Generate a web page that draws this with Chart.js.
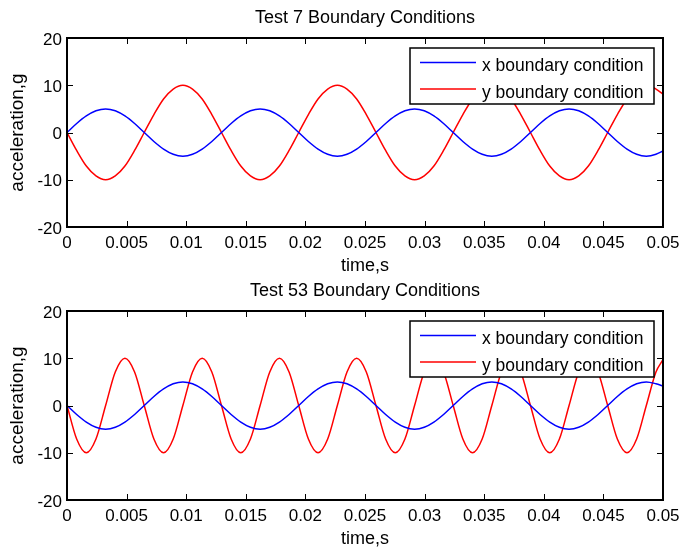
<!DOCTYPE html>
<html>
<head>
<meta charset="utf-8">
<script src="https://cdn.jsdelivr.net/npm/chart.js@4.4.1/dist/chart.umd.min.js"></script>
<style>
  html, body { margin: 0; padding: 0; background: #fff; overflow: hidden; }
  body { width: 686px; height: 548px; position: relative; }
  canvas { position: absolute; left: 0; }
  #test7 { top: 0; }
  #test53 { top: 273px; }
</style>
</head>
<body>
<canvas id="test7" width="686" height="277"></canvas>
<canvas id="test53" width="686" height="277"></canvas>
<script>
// time samples, s (at peaks, zero crossings and in between)
var timeS = [
    0, 0.00081, 0.00162, 0.00243, 0.00324, 0.00405, 0.00486, 0.00567, 0.00648, 0.00729, 0.0081, 0.00891, 0.00972, 0.01053, 0.01134, 0.01215,
    0.01296, 0.01377, 0.01458, 0.01539, 0.0162, 0.01701, 0.01782, 0.01863, 0.01944, 0.02025, 0.02106, 0.02187, 0.02268, 0.02349, 0.0243, 0.02511,
    0.02592, 0.02673, 0.02754, 0.02835, 0.02916, 0.02997, 0.03078, 0.03159, 0.0324, 0.03321, 0.03402, 0.03483, 0.03564, 0.03645, 0.03726, 0.03807,
    0.03888, 0.03969, 0.0405, 0.04131, 0.04212, 0.04293, 0.04374, 0.04455, 0.04536, 0.04617, 0.04698, 0.04779, 0.0486, 0.04941, 0.05
];

// Test 7, acceleration in g
var test7X = [
    0, 1.9, 3.5, 4.6, 5, 4.6, 3.5, 1.9, 0, -1.9, -3.5, -4.6, -5, -4.6, -3.5, -1.9,
    0, 1.9, 3.5, 4.6, 5, 4.6, 3.5, 1.9, 0, -1.9, -3.5, -4.6, -5, -4.6, -3.5, -1.9,
    0, 1.9, 3.5, 4.6, 5, 4.6, 3.5, 1.9, 0, -1.9, -3.5, -4.6, -5, -4.6, -3.5, -1.9,
    0, 1.9, 3.5, 4.6, 5, 4.6, 3.5, 1.9, 0, -1.9, -3.5, -4.6, -5, -4.6, -3.9
];
var test7Y = [
    0, -3.8, -7.1, -9.2, -10, -9.2, -7.1, -3.8, 0, 3.8, 7.1, 9.2, 10, 9.2, 7.1, 3.8,
    0, -3.8, -7.1, -9.2, -10, -9.2, -7.1, -3.8, 0, 3.8, 7.1, 9.2, 10, 9.2, 7.1, 3.8,
    0, -3.8, -7.1, -9.2, -10, -9.2, -7.1, -3.8, 0, 3.8, 7.1, 9.2, 10, 9.2, 7.1, 3.8,
    0, -3.8, -7.1, -9.2, -10, -9.2, -7.1, -3.8, 0, 3.8, 7.1, 9.2, 10, 9.2, 8.1
];

// Test 53, acceleration in g
var test53X = [
    0, -1.9, -3.5, -4.6, -5, -4.6, -3.5, -1.9, 0, 1.9, 3.5, 4.6, 5, 4.6, 3.5, 1.9,
    0, -1.9, -3.5, -4.6, -5, -4.6, -3.5, -1.9, 0, 1.9, 3.5, 4.6, 5, 4.6, 3.5, 1.9,
    0, -1.9, -3.5, -4.6, -5, -4.6, -3.5, -1.9, 0, 1.9, 3.5, 4.6, 5, 4.6, 3.5, 1.9,
    0, -1.9, -3.5, -4.6, -5, -4.6, -3.5, -1.9, 0, 1.9, 3.5, 4.6, 5, 4.6, 4.1
];
var test53Y = [
    0, -7.1, -10, -7.1, 0, 7.1, 10, 7.1,
    0, -7.1, -10, -7.1, 0, 7.1, 10, 7.1,
    0, -7.1, -10, -7.1, 0, 7.1, 10, 7.1,
    0, -7.1, -10, -7.1, 0, 7.1, 10, 7.1,
    0, -7.1, -10, -7.1, 0, 7.1, 10, 7.1,
    0, -7.1, -10, -7.1, 0, 7.1, 10, 7.1,
    0, -7.1, -10, -7.1, 0, 7.1, 10, 7.1,
    0, -7.1, -10, -7.1, 0, 7.1, 9.7
];

var xTicks = [0, 0.005, 0.01, 0.015, 0.02, 0.025, 0.03, 0.035, 0.04, 0.045, 0.05];
var yTicks = [-20, -10, 0, 10, 20];
var seriesNames = ["x boundary condition", "y boundary condition"];
var seriesColors = ["#0000ff", "#ff0000"];

var fontFamily = "'Liberation Sans', Arial, Helvetica, sans-serif";

function toPoints(values) {
    return timeS.map(function (t, i) { return { x: t, y: values[i] }; });
}

// matlab style: closed box, inward ticks, legend inside, title on top
var matlabAxes = {
    id: 'matlabAxes',
    afterDatasetsDraw: function (chart, args, opts) {
        var ctx = chart.ctx;
        var a = chart.chartArea;
        var xs = chart.scales.x, ys = chart.scales.y;
        ctx.save();

        ctx.strokeStyle = '#000';
        ctx.lineWidth = 1;
        ctx.beginPath();
        xTicks.forEach(function (v) {
            var px = Math.round(xs.getPixelForValue(v)) + 0.5;
            ctx.moveTo(px, a.bottom); ctx.lineTo(px, a.bottom - 6);
            ctx.moveTo(px, a.top); ctx.lineTo(px, a.top + 6);
        });
        yTicks.forEach(function (v) {
            var py = Math.round(ys.getPixelForValue(v)) + 0.5;
            ctx.moveTo(a.left, py); ctx.lineTo(a.left + 6, py);
            ctx.moveTo(a.right, py); ctx.lineTo(a.right - 6, py);
        });
        ctx.stroke();

        ctx.lineWidth = 2;
        ctx.strokeRect(a.left, a.top, a.right - a.left, a.bottom - a.top);

        // legend
        var lx = a.right - 253, ly = a.top + 10;
        ctx.fillStyle = '#fff';
        ctx.fillRect(lx, ly, 244, 56);
        ctx.lineWidth = 1.5;
        ctx.strokeRect(lx, ly, 244, 56);
        ctx.font = '17.5px ' + fontFamily;
        ctx.textAlign = 'left';
        ctx.textBaseline = 'alphabetic';
        chart.data.datasets.forEach(function (ds, i) {
            var rowY = ly + 14.5 + i * 26.5;
            ctx.strokeStyle = ds.borderColor;
            ctx.lineWidth = 1.5;
            ctx.beginPath();
            ctx.moveTo(lx + 10, rowY);
            ctx.lineTo(lx + 66, rowY);
            ctx.stroke();
            ctx.fillStyle = '#000';
            ctx.fillText(ds.label, lx + 72, rowY + 8.5);
        });

        // title
        ctx.font = '18px ' + fontFamily;
        ctx.textAlign = 'center';
        ctx.fillStyle = '#000';
        ctx.fillText(opts.text, (a.left + a.right) / 2, 23);

        ctx.restore();
    }
};

function drawPanel(canvasId, titleText, xValues, yValues) {
    var tickFont = { family: fontFamily, size: 17 };
    return new Chart(document.getElementById(canvasId), {
        type: 'line',
        data: {
            datasets: [
                { label: seriesNames[0], data: toPoints(xValues), borderColor: seriesColors[0] },
                { label: seriesNames[1], data: toPoints(yValues), borderColor: seriesColors[1] }
            ]
        },
        options: {
            responsive: false,
            animation: false,
            devicePixelRatio: 1,
            layout: { padding: { top: 38, right: 23, bottom: 0, left: 0 } },
            elements: {
                point: { radius: 0 },
                line: { borderWidth: 1.5, cubicInterpolationMode: 'monotone', fill: false }
            },
            plugins: {
                legend: { display: false },
                tooltip: { enabled: false },
                matlabAxes: { text: titleText }
            },
            scales: {
                x: {
                    type: 'linear',
                    min: 0,
                    max: 0.05,
                    grid: { display: false, drawTicks: false },
                    border: { display: false },
                    afterBuildTicks: function (s) { s.ticks = xTicks.map(function (v) { return { value: v }; }); },
                    afterFit: function (s) { s.height = 50; },
                    ticks: {
                        padding: 6, maxRotation: 0, autoSkip: false, color: '#000', font: tickFont,
                        callback: function (v) { return String(+Number(v).toFixed(3)); }
                    },
                    title: { display: true, text: 'time,s', color: '#000', font: { family: fontFamily, size: 18 }, padding: { top: 0, bottom: 0 } }
                },
                y: {
                    min: -20,
                    max: 20,
                    grid: { display: false, drawTicks: false },
                    border: { display: false },
                    afterBuildTicks: function (s) { s.ticks = yTicks.map(function (v) { return { value: v }; }); },
                    afterFit: function (s) { s.width = 67; },
                    ticks: {
                        padding: 5, labelOffset: 2, color: '#000', font: tickFont,
                        callback: function (v) { return String(v); }
                    },
                    title: { display: true, text: 'acceleration,g', color: '#000', font: { family: fontFamily, size: 19 }, padding: { top: 6, bottom: 0 } }
                }
            }
        },
        plugins: [matlabAxes]
    });
}

drawPanel('test7', 'Test 7 Boundary Conditions', test7X, test7Y);
drawPanel('test53', 'Test 53 Boundary Conditions', test53X, test53Y);
</script>
</body>
</html>
